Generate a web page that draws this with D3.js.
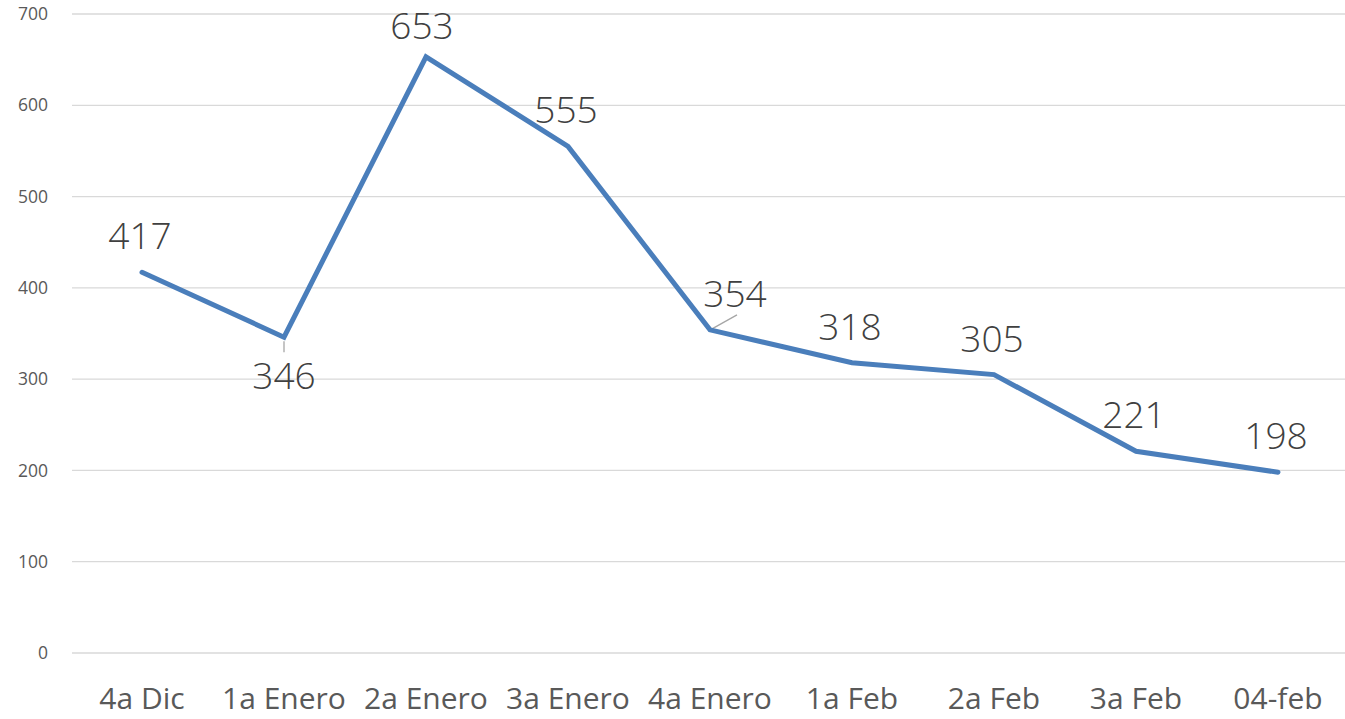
<!DOCTYPE html>
<html><head><meta charset="utf-8">
<script src="https://cdn.jsdelivr.net/npm/d3@7/dist/d3.min.js"></script>
<style>html,body{margin:0;padding:0;background:#fff;}</style>
</head><body>
<svg id="chart" width="1345" height="719"></svg>
<script>
const categories = ["4a Dic","1a Enero","2a Enero","3a Enero","4a Enero","1a Feb","2a Feb","3a Feb","04-feb"];
const values = [417,346,653,555,354,318,305,221,198];
const yTicks = [0,100,200,300,400,500,600,700];

const svg = d3.select("#chart");
const x = d3.scalePoint().domain(categories).range([71,1349]).padding(0.5);
const y = d3.scaleLinear().domain([0,700]).range([653,14]);

// gridlines
svg.append("g").selectAll("line").data(yTicks).join("line")
  .attr("x1",72).attr("x2",1345)
  .attr("y1",d=>y(d)).attr("y2",d=>y(d))
  .attr("stroke","#d9d9d9").attr("stroke-width",1.3);

// y axis labels
svg.append("g").selectAll("text").data(yTicks).join("text")
  .attr("x",48).attr("y",d=>y(d)).attr("dy","0.35em")
  .attr("text-anchor","end")
  .attr("font-family","'Open Sans', 'Liberation Sans', sans-serif")
  .attr("font-size",17.5).attr("fill","#595959")
  .text(d=>d);

// x axis labels
svg.append("g").selectAll("text").data(categories).join("text")
  .attr("x",d=>x(d)).attr("y",709)
  .attr("text-anchor","middle")
  .attr("font-family","'Open Sans', 'Liberation Sans', sans-serif")
  .attr("font-size",30).attr("fill","#595959")
  .text(d=>d);

const data = categories.map((c,i)=>({c,v:values[i]}));

// leader lines
svg.append("line").attr("x1",x(categories[1])).attr("x2",x(categories[1]))
  .attr("y1",y(values[1])+4).attr("y2",y(values[1])+15)
  .attr("stroke","#a6a6a6").attr("stroke-width",1.3);
svg.append("line").attr("x1",x(categories[4])+2).attr("x2",x(categories[4])+27)
  .attr("y1",y(values[4])-1).attr("y2",y(values[4])-15)
  .attr("stroke","#a6a6a6").attr("stroke-width",1.3);

// line
svg.append("path").datum(data)
  .attr("d",d3.line().x(d=>x(d.c)).y(d=>y(d.v)))
  .attr("fill","none").attr("stroke","#4a7ebb").attr("stroke-width",5)
  .attr("stroke-linejoin","miter").attr("stroke-linecap","round");

// data labels
const offs = data.map((d,i)=>{
  if(i===1) return {dx:0,dy:52};
  if(i===2) return {dx:-4,dy:-18};
  if(i===4) return {dx:25,dy:-23};
  return {dx:-2,dy:-23};
});
svg.append("g").selectAll("text").data(data).join("text")
  .attr("x",(d,i)=>x(d.c)+offs[i].dx)
  .attr("y",(d,i)=>y(d.v)+offs[i].dy)
  .attr("text-anchor","middle")
  .attr("font-family","'Open Sans', sans-serif").attr("font-weight",300)
  .attr("font-size",37).attr("fill","#404040")
  .text(d=>d.v);
</script>
</body></html>
